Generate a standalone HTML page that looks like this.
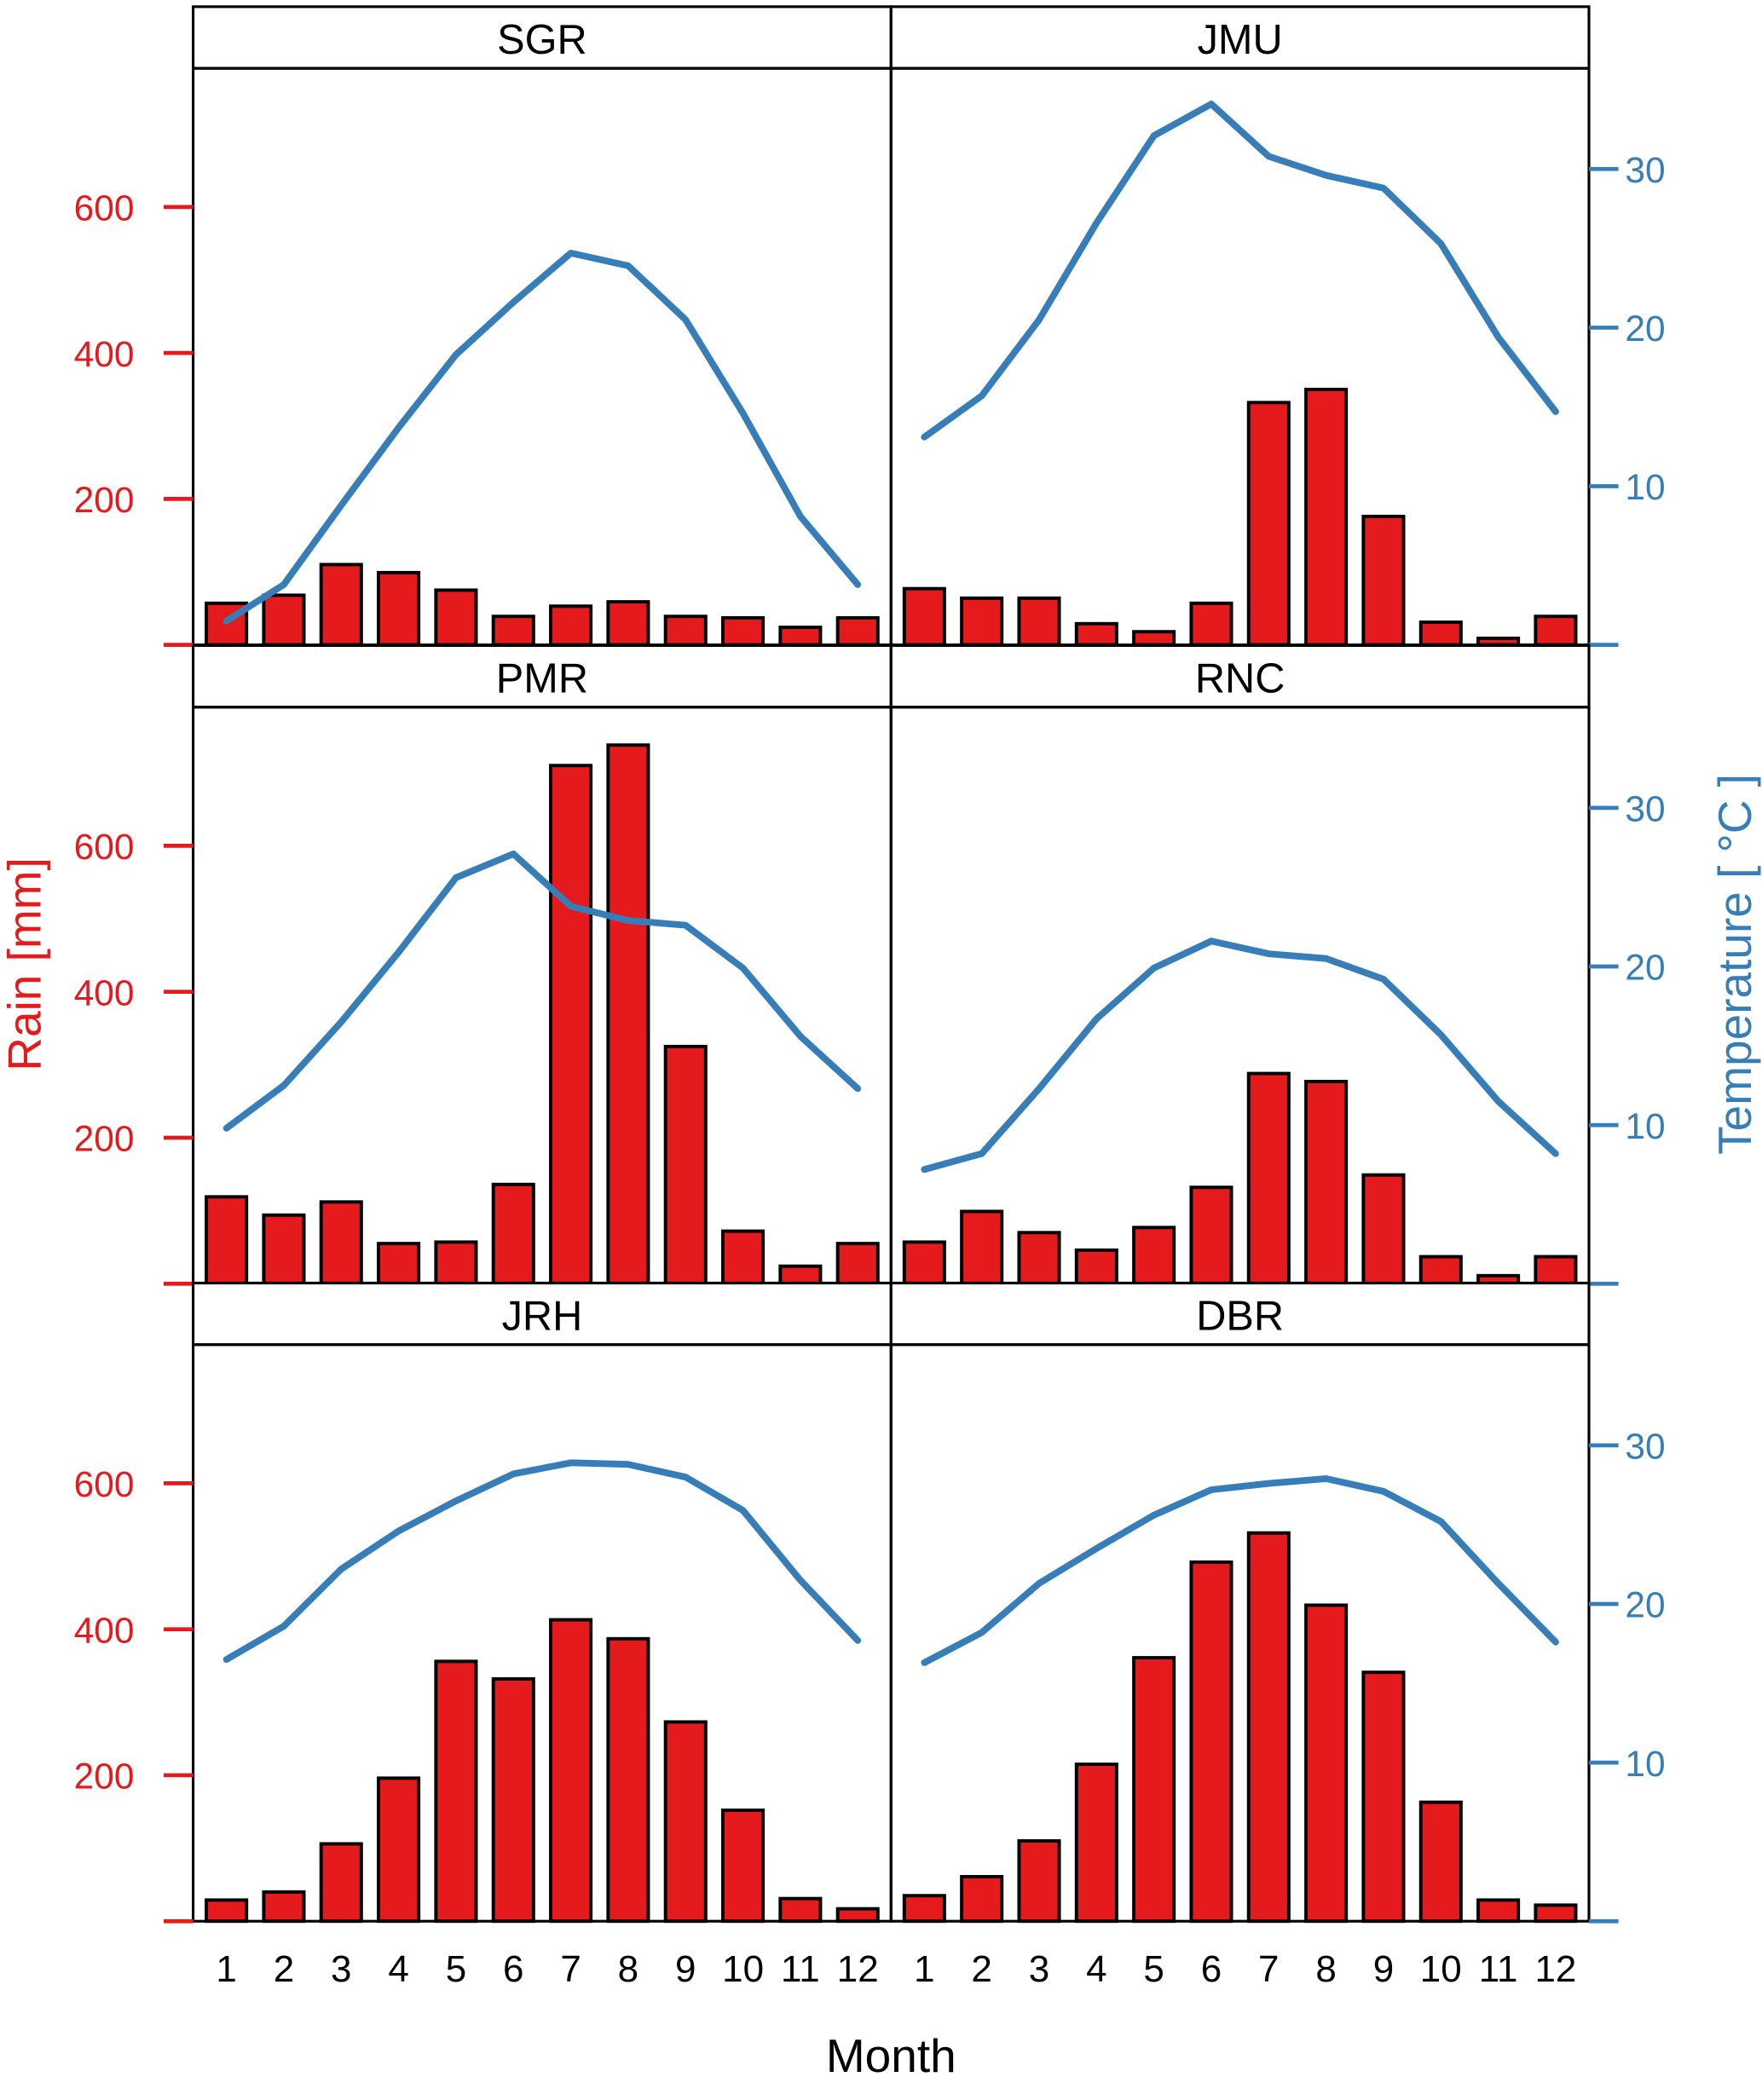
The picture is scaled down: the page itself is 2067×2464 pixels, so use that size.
<!DOCTYPE html>
<html><head><meta charset="utf-8"><style>
html,body{margin:0;padding:0;background:#fff}
svg{display:block}
text{font-family:"Liberation Sans",sans-serif}
</style></head><body>
<svg id="chart" width="2067" height="2464" viewBox="0 0 1315 1568" xmlns="http://www.w3.org/2000/svg"></svg>
<script>
const months = [1,2,3,4,5,6,7,8,9,10,11,12];
const stations = ["SGR","JMU","PMR","RNC","JRH","DBR"];
const rainSGR = [57,68,110,99,75,39,53,59,39,37,24,37];
const tempSGR = [1.5,3.8,8.8,13.7,18.3,21.6,24.7,23.9,20.5,14.6,8.1,3.8];
const rainJMU = [77,64,64,29,18,57,332,350,176,31,9,39];
const tempJMU = [13.1,15.7,20.5,26.6,32.1,34.1,30.8,29.6,28.8,25.3,19.4,14.7];
const rainPMR = [119,94,112,55,57,136,710,738,325,72,24,55];
const tempPMR = [9.8,12.5,16.5,20.9,25.6,27.1,23.8,22.9,22.6,19.9,15.6,12.3];
const rainRNC = [57,99,70,46,77,132,288,277,149,37,11,37];
const tempRNC = [7.2,8.2,12.3,16.7,19.9,21.6,20.8,20.5,19.2,15.7,11.5,8.2];
const rainJRH = [29,40,106,196,356,332,413,387,273,152,31,17];
const tempJRH = [16.5,18.6,22.2,24.6,26.5,28.2,28.9,28.8,28.0,25.9,21.5,17.7];
const rainDBR = [35,61,110,215,361,492,532,433,341,163,29,22];
const tempDBR = [16.3,18.2,21.3,23.5,25.6,27.2,27.6,27.9,27.1,25.2,21.3,17.6];
const rainTicks = [0,200,400,600];
const rainTickLabels = ["","200","400","600"];
const tempTicks = [0,10,20,30];
const tempTickLabels = ["","10","20","30"];
const rainData = {SGR:rainSGR,JMU:rainJMU,PMR:rainPMR,RNC:rainRNC,JRH:rainJRH,DBR:rainDBR};
const tempData = {SGR:tempSGR,JMU:tempJMU,PMR:tempPMR,RNC:tempRNC,JRH:tempJRH,DBR:tempDBR};

const NS="http://www.w3.org/2000/svg";
const svg=document.getElementById('chart');
const RED="#E41A1C", BLUE="#377EB8";
function el(tag,attrs,parent){const e=document.createElementNS(NS,tag);for(const k in attrs)e.setAttribute(k,attrs[k]);(parent||svg).appendChild(e);return e;}
const colX=[144,665], W=521;
const rowTop=[5,482,958], stripH=46, plotH=430.5;
const xmin=0.42,xmax=12.58, rmax=790, tmax=36.35;
stations.forEach((st,i)=>{
  const col=i%2,row=Math.floor(i/2);
  const x0=colX[col], sy=rowTop[row], py=sy+stripH, pb=py+plotH;
  const g=el('g',{});
  
  
  const xs=m=>x0+(m-xmin)/(xmax-xmin)*W;
  const yr=v=>pb-v/rmax*plotH;
  const yt=v=>pb-v/tmax*plotH;
  const strip=el('rect',{x:x0,y:sy,width:W,height:stripH,fill:'#fff',stroke:'#000','stroke-width':2},g);
  
  
  const lab=el('text',{x:x0+W/2,y:sy+35,'text-anchor':'middle','font-size':31},g);lab.textContent=st;
  
  
  const bw=0.7/(xmax-xmin)*W;
  rainData[st].forEach((v,j)=>{
    const b=el('rect',{x:xs(months[j])-bw/2,y:yr(v),width:bw,height:pb-yr(v),fill:RED,stroke:'#000','stroke-width':2.5},g);
    
    
  });
  const pts=tempData[st].map((v,j)=>xs(months[j])+','+yt(v)).join(' ');
  const ln=el('polyline',{points:pts,fill:'none',stroke:BLUE,'stroke-width':5,'stroke-linejoin':'round','stroke-linecap':'round'},g);
  
  
  const fr=el('rect',{x:x0,y:py,width:W,height:plotH,fill:'none',stroke:'#000','stroke-width':2},g);
  
  
  if(col===0){
    rainTicks.forEach((t,k)=>{
      el('line',{x1:x0-22,x2:x0,y1:yr(t),y2:yr(t),stroke:RED,'stroke-width':3},g);
      if(rainTickLabels[k]){const tx=el('text',{x:x0-44,y:yr(t)+10,'text-anchor':'end','font-size':27,fill:RED},g);tx.textContent=rainTickLabels[k];
      
      }
    });
  } else {
    tempTicks.forEach((t,k)=>{
      el('line',{x1:x0+W,x2:x0+W+22,y1:yt(t),y2:yt(t),stroke:BLUE,'stroke-width':3},g);
      if(tempTickLabels[k]){const tx=el('text',{x:x0+W+27,y:yt(t)+10,'font-size':27,fill:BLUE},g);tx.textContent=tempTickLabels[k];
      
      }
    });
  }
  if(row===2){
    months.forEach(m=>{const tx=el('text',{x:xs(m),y:pb+45,'text-anchor':'middle','font-size':28},g);tx.textContent=m;
    
    });
  }
});
const xt=el('text',{x:665,y:1547,'text-anchor':'middle','font-size':35});xt.textContent='Month';


const yl=el('text',{x:0,y:0,'text-anchor':'middle','font-size':35,fill:RED,transform:'translate(30,720) rotate(-90)'});yl.textContent='Rain [mm]';


const yr2=el('text',{x:0,y:0,'text-anchor':'middle','font-size':35,fill:BLUE,transform:'translate(1307,720) rotate(-90)'});yr2.textContent='Temperature [ °C ]';


</script>
</body></html>
